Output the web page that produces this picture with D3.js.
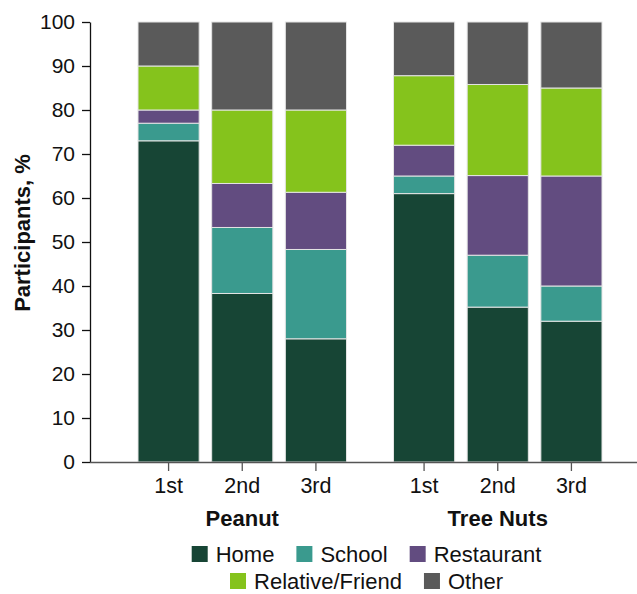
<!DOCTYPE html>
<html>
<head>
<meta charset="utf-8">
<script src="https://cdn.jsdelivr.net/npm/d3@7"></script>
<style>
  html, body { margin: 0; padding: 0; background: #fff; }
  svg { display: block; font-family: "Liberation Sans", Arial, Helvetica, sans-serif; }
</style>
</head>
<body>
<svg id="chart" width="637" height="594"></svg>
<script>
// ---- Data ----
const groups = ["Peanut", "Tree Nuts"];
const reactions = ["1st", "2nd", "3rd"];
const locations = ["Home", "School", "Restaurant", "Relative/Friend", "Other"];
const colors = ["#174535", "#3a9a8e", "#624c80", "#85c31c", "#5a5a5a"];

// values per location, ordered [Peanut 1st,2nd,3rd, Tree Nuts 1st,2nd,3rd]
const homeValues       = [73, 38.3, 28,   61,   35.2, 32];
const schoolValues     = [4,  15,   20.3, 4,    11.8, 8];
const restaurantValues = [3,  10,   13,   7,    18.1, 25];
const relativeValues   = [10, 16.7, 18.7, 15.8, 20.7, 20];
const otherValues      = [10, 20,   20,   12.2, 14.2, 15];
const yTicks = [0, 10, 20, 30, 40, 50, 60, 70, 80, 90, 100];
const yLabel = "Participants, %";

// ---- Build table ----
const seriesValues = [homeValues, schoolValues, restaurantValues, relativeValues, otherValues];
const rows = [];
groups.forEach((g, gi) => {
  reactions.forEach((r, ri) => {
    const row = { group: g, reaction: r };
    locations.forEach((loc, li) => { row[loc] = seriesValues[li][gi * 3 + ri]; });
    rows.push(row);
  });
});

const svg = d3.select("#chart");
const plotLeft = 90, plotRight = 637, plotTop = 22, plotBottom = 462;

const x0 = d3.scaleBand().domain(groups).range([114.5, 625.5]).paddingInner(0.086).paddingOuter(0.043);
const x1 = d3.scaleBand().domain(reactions).range([0, x0.bandwidth()]).padding(0.17);
const y = d3.scaleLinear().domain([0, 100]).range([plotBottom, plotTop]);
const color = d3.scaleOrdinal().domain(locations).range(colors);

const stacked = d3.stack().keys(locations)(rows);

// bars
const layers = svg.append("g").selectAll("g")
  .data(stacked).join("g")
  .attr("fill", d => color(d.key));

layers.selectAll("rect")
  .data(d => d)
  .join("rect")
  .attr("x", d => x0(d.data.group) + x1(d.data.reaction))
  .attr("width", x1.bandwidth())
  .attr("y", d => y(d[1]))
  .attr("height", d => y(d[0]) - y(d[1]))
  .attr("stroke", "#e4e4e4")
  .attr("stroke-width", 1);

const fontFam = "'Liberation Sans', Arial, sans-serif";

// y axis
const yAxis = d3.axisLeft(y).tickValues(yTicks).tickSize(8).tickPadding(7).tickSizeOuter(0);
const gy = svg.append("g").attr("transform", `translate(${plotLeft},0)`).call(yAxis);
gy.select(".domain").attr("stroke", "#111").attr("stroke-width", 1.3);
gy.selectAll(".tick line").attr("stroke", "#111").attr("stroke-width", 1.3);
gy.selectAll(".tick text").attr("font-size", 21).attr("fill", "#111").attr("font-family", fontFam);

// x axis baseline
svg.append("line")
  .attr("x1", plotLeft).attr("x2", plotRight)
  .attr("y1", plotBottom + 0.5).attr("y2", plotBottom + 0.5)
  .attr("stroke", "#555").attr("stroke-width", 1.5);

// x ticks per group
groups.forEach(g => {
  const gx = svg.append("g").attr("transform", `translate(${x0(g)},${plotBottom})`);
  gx.call(d3.axisBottom(x1).tickSize(9).tickPadding(7).tickSizeOuter(0));
  gx.select(".domain").remove();
  gx.selectAll(".tick line").attr("stroke", "#555").attr("stroke-width", 1.3);
  gx.selectAll(".tick text").attr("font-size", 21.5).attr("fill", "#111").attr("font-family", fontFam);
  svg.append("text")
    .attr("x", x0(g) + x0.bandwidth() / 2)
    .attr("y", 526)
    .attr("text-anchor", "middle")
    .attr("font-size", 22)
    .attr("font-weight", "bold")
    .attr("fill", "#111")
    .text(g);
});

// y label
svg.append("text")
  .attr("transform", `translate(30,233) rotate(-90)`)
  .attr("text-anchor", "middle")
  .attr("font-size", 22)
  .attr("font-weight", "bold")
  .attr("fill", "#111")
  .text(yLabel);

// legend
const legendRows = [locations.slice(0, 3), locations.slice(3)];
const legendY = [554, 581];
const cx = 366.5;
const sw = 16, gapText = 8, gapItem = 22;
legendRows.forEach((items, ri) => {
  const g = svg.append("g");
  let xpos = 0;
  items.forEach(loc => {
    const item = g.append("g").attr("transform", `translate(${xpos},0)`);
    item.append("rect").attr("x", 0).attr("y", -8).attr("width", sw).attr("height", sw)
      .attr("fill", color(loc));
    const t = item.append("text").attr("x", sw + gapText).attr("y", 0)
      .attr("dy", "0.35em").attr("font-size", 22).attr("fill", "#111").text(loc);
    xpos += sw + gapText + t.node().getComputedTextLength() + gapItem;
  });
  const total = xpos - gapItem;
  g.attr("transform", `translate(${cx - total / 2},${legendY[ri]})`);
});
</script>
</body>
</html>
